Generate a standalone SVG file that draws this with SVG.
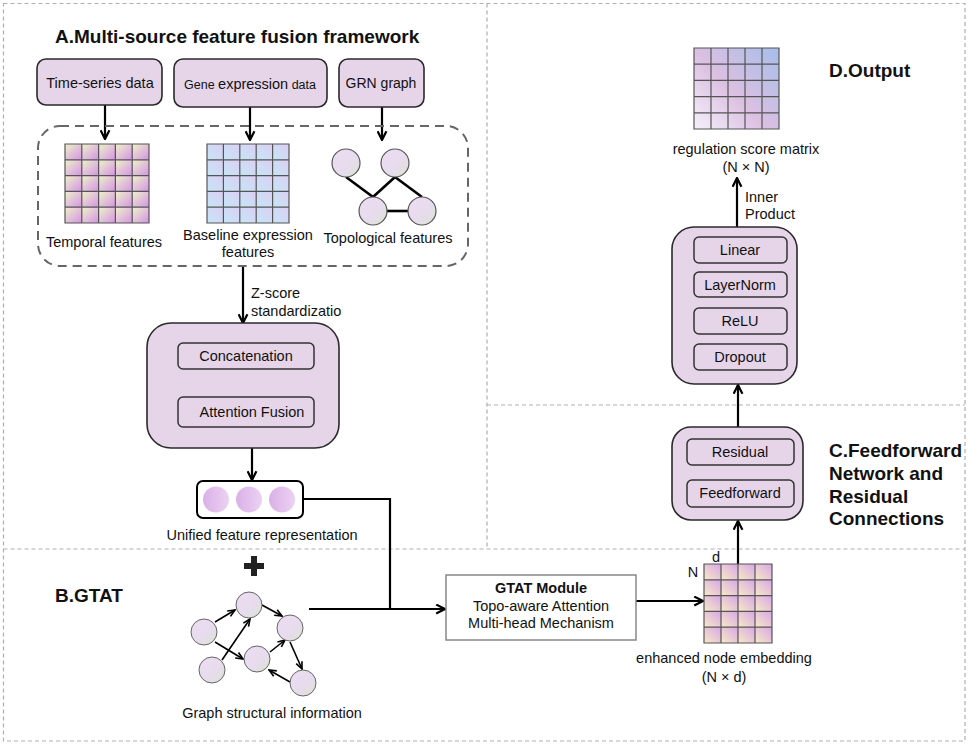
<svg xmlns="http://www.w3.org/2000/svg" width="969" height="746" viewBox="0 0 969 746">
<defs>
<style>
text{font-family:"Liberation Sans",Arial,sans-serif;fill:#111;}
.h{font-size:19px;font-weight:bold;}
.t{font-size:14.5px;}
.m{text-anchor:middle;}
.panel{fill:none;stroke:#b0b0b0;stroke-width:1.2;stroke-dasharray:4 3;}
.box{fill:#e6d5e9;stroke:#2a2a2a;stroke-width:1.6;}
.inbox{fill:#e6d5e9;stroke:#333;stroke-width:1.5;}
.grid{fill:none;stroke:#555;stroke-width:1.2;}
.conn{fill:none;stroke:#000;stroke-width:2.2;}
.gconn{fill:none;stroke:#000;stroke-width:1.6;}
.edge{stroke:#000;stroke-width:2.6;}
</style>
<marker id="ah" viewBox="0 0 10 10" refX="9" refY="5" markerWidth="11" markerHeight="11" markerUnits="userSpaceOnUse" orient="auto"><path d="M1,1 L9,5 L1,9" fill="none" stroke="#000" stroke-width="2"/></marker>
<marker id="sa" viewBox="0 0 10 10" refX="9" refY="5" markerWidth="9" markerHeight="9" markerUnits="userSpaceOnUse" orient="auto"><path d="M1,1.5 L9,5 L1,8.5" fill="none" stroke="#000" stroke-width="1.8"/></marker>
<linearGradient id="gT" x1="0" y1="0" x2="1" y2="1"><stop offset="0" stop-color="#eef3c8"/><stop offset="1" stop-color="#d592e6"/></linearGradient>
<linearGradient id="gB" x1="0" y1="1" x2="1" y2="0"><stop offset="0" stop-color="#c4e6f7"/><stop offset="1" stop-color="#dccff2"/></linearGradient>
<linearGradient id="gN" x1="0" y1="1" x2="1" y2="0"><stop offset="0" stop-color="#f8eac4"/><stop offset="1" stop-color="#d8a6e8"/></linearGradient>
<linearGradient id="gO" gradientUnits="userSpaceOnUse" x1="694" y1="129" x2="779" y2="48"><stop offset="0" stop-color="#f5f0fa"/><stop offset="0.45" stop-color="#dcc0e2"/><stop offset="1" stop-color="#a6bee9"/></linearGradient>
<linearGradient id="gC" x1="0" y1="0" x2="1" y2="1"><stop offset="0" stop-color="#efdcf4"/><stop offset="0.6" stop-color="#e6dcec"/><stop offset="1" stop-color="#dde4cc"/></linearGradient>
<linearGradient id="gU" x1="0" y1="0" x2="1" y2="0"><stop offset="0" stop-color="#dab0e6"/><stop offset="1" stop-color="#ecd2f4"/></linearGradient>
<pattern id="pT" patternUnits="userSpaceOnUse" x="65" y="144" width="16.8" height="15.8"><rect width="16.8" height="15.8" fill="url(#gT)"/></pattern>
<pattern id="pB" patternUnits="userSpaceOnUse" x="207" y="144" width="16.4" height="15.8"><rect width="16.4" height="15.8" fill="url(#gB)"/></pattern>
<pattern id="pN" patternUnits="userSpaceOnUse" x="704" y="564" width="17" height="15.8"><rect width="17" height="15.8" fill="url(#gN)"/></pattern>
</defs>

<g id="panels">
<rect class="panel" x="3.5" y="3.5" width="961.5" height="737.5"/>
<line class="panel" x1="487" y1="3.5" x2="487" y2="549"/>
<line class="panel" x1="3.5" y1="549" x2="965" y2="549"/>
<line class="panel" x1="487" y1="405" x2="965" y2="405"/>
</g>

<g id="titles">
<text class="h" x="55" y="43">A.Multi-source feature fusion framework</text>
<text class="h" x="55" y="602">B.GTAT</text>
<text class="h" x="829" y="457">C.Feedforward</text>
<text class="h" x="829" y="480">Network and</text>
<text class="h" x="829" y="503">Residual</text>
<text class="h" x="829" y="525">Connections</text>
<text class="h" x="829" y="77">D.Output</text>
</g>

<g id="connectors">
<line class="conn" x1="105" y1="105" x2="105" y2="139" marker-end="url(#ah)"/>
<line class="conn" x1="250" y1="107" x2="250" y2="140" marker-end="url(#ah)"/>
<line class="conn" x1="382" y1="107" x2="382" y2="140" marker-end="url(#ah)"/>
<line class="conn" x1="243" y1="266" x2="243" y2="323" marker-end="url(#ah)"/>
<line class="conn" x1="252" y1="448" x2="252" y2="480" marker-end="url(#ah)"/>
<polyline class="conn" points="303,499 390,499 390,609"/>
<line class="conn" x1="309" y1="609" x2="445" y2="609" marker-end="url(#ah)"/>
<line class="conn" x1="636" y1="601" x2="703" y2="601" marker-end="url(#ah)"/>
<line class="conn" x1="738" y1="564" x2="738" y2="521" marker-end="url(#ah)"/>
<line class="conn" x1="738" y1="427" x2="738" y2="385" marker-end="url(#ah)"/>
<line class="conn" x1="737" y1="227" x2="737" y2="178" marker-end="url(#ah)"/>
</g>

<g id="time-series">
<rect class="box" x="37" y="59" width="125" height="46" rx="9"/>
<text class="t m" x="100" y="88">Time-series data</text>
</g>
<g id="gene-expression">
<rect class="box" x="174" y="59" width="153" height="48" rx="9"/>
<text class="m" x="250" y="89"><tspan style="font-size:12.5px">Gene </tspan><tspan style="font-size:14.5px">expression</tspan><tspan style="font-size:12.5px"> data</tspan></text>
</g>
<g id="grn-graph">
<rect class="box" x="339" y="59" width="85" height="48" rx="9"/>
<text class="m" x="381" y="88" style="font-size:14px">GRN graph</text>
</g>

<g id="feature-group">
<rect x="38" y="126" width="430" height="140" rx="22" fill="none" stroke="#666" stroke-width="2" stroke-dasharray="9 6"/>
</g>

<g id="temporal-features">
<rect x="65" y="144" width="84" height="79" fill="url(#pT)"/>
<path class="grid" d="M65,144h84v79h-84zM81.8,144v79M98.6,144v79M115.4,144v79M132.2,144v79M65,159.8h84M65,175.6h84M65,191.4h84M65,207.2h84"/>
<text class="t m" x="104" y="247">Temporal features</text>
</g>

<g id="baseline-features">
<rect x="207" y="144" width="82" height="79" fill="url(#pB)"/>
<path class="grid" d="M207,144h82v79h-82zM223.4,144v79M239.8,144v79M256.2,144v79M272.6,144v79M207,159.8h82M207,175.6h82M207,191.4h82M207,207.2h82"/>
<text class="t m" x="248" y="240">Baseline expression</text>
<text class="t m" x="248" y="257">features</text>
</g>

<g id="topological-features">
<line class="edge" x1="346" y1="177" x2="373" y2="197"/>
<line class="edge" x1="373" y1="197" x2="395" y2="177"/>
<line class="edge" x1="395" y1="177" x2="422" y2="197"/>
<line class="edge" x1="386" y1="211" x2="409" y2="211"/>
<circle cx="346" cy="163" r="14" fill="url(#gC)" stroke="#555" stroke-width="1.2"/>
<circle cx="395" cy="163" r="14" fill="url(#gC)" stroke="#555" stroke-width="1.2"/>
<circle cx="373" cy="211" r="14" fill="url(#gC)" stroke="#555" stroke-width="1.2"/>
<circle cx="422" cy="211" r="14" fill="url(#gC)" stroke="#555" stroke-width="1.2"/>
<text class="t m" x="388" y="243">Topological features</text>
</g>

<g id="zscore-label">
<text class="t" x="251" y="298">Z-score</text>
<text class="t" x="251" y="316">standardizatio</text>
</g>

<g id="fusion">
<rect class="box" x="147" y="323" width="192" height="125" rx="24"/>
<rect class="inbox" x="178" y="343" width="136" height="26" rx="5"/>
<text class="t m" x="246" y="361">Concatenation</text>
<rect class="inbox" x="178" y="397" width="136" height="30" rx="5"/>
<text class="t m" x="252" y="417">Attention Fusion</text>
</g>

<g id="unified">
<rect x="197" y="481" width="106" height="37" rx="6" fill="#fff" stroke="#000" stroke-width="2"/>
<circle cx="216" cy="499.5" r="13" fill="url(#gU)"/>
<circle cx="249" cy="499.5" r="13" fill="url(#gU)"/>
<circle cx="282" cy="499.5" r="13" fill="url(#gU)"/>
<text class="t m" x="262" y="540">Unified feature representation</text>
</g>

<g id="plus">
<path d="M251,556h6v7h7v6h-7v7h-6v-7h-7v-6h7z" fill="#222"/>
</g>

<g id="graph-structure">
<g class="gconn">
<line x1="215" y1="622" x2="235" y2="610" marker-end="url(#sa)"/>
<line x1="222" y1="660" x2="250" y2="619" marker-end="url(#sa)"/>
<line x1="215" y1="642" x2="243" y2="659" marker-end="url(#sa)"/>
<line x1="262" y1="605" x2="282" y2="616" marker-end="url(#sa)"/>
<line x1="270" y1="652" x2="285" y2="640" marker-end="url(#sa)"/>
<line x1="290" y1="642" x2="302" y2="669" marker-end="url(#sa)"/>
<line x1="290" y1="682" x2="269" y2="670" marker-end="url(#sa)"/>
</g>
<circle cx="204" cy="632" r="13" fill="url(#gC)" stroke="#666" stroke-width="1"/>
<circle cx="249" cy="605" r="13" fill="url(#gC)" stroke="#666" stroke-width="1"/>
<circle cx="290" cy="628" r="13" fill="url(#gC)" stroke="#666" stroke-width="1"/>
<circle cx="212" cy="670" r="13" fill="url(#gC)" stroke="#666" stroke-width="1"/>
<circle cx="257" cy="659" r="13" fill="url(#gC)" stroke="#666" stroke-width="1"/>
<circle cx="303" cy="683" r="13" fill="url(#gC)" stroke="#666" stroke-width="1"/>
<text class="t m" x="272" y="718">Graph structural information</text>
</g>

<g id="gtat-module">
<rect x="446" y="575" width="190" height="65" fill="#fff" stroke="#888" stroke-width="1.5"/>
<text class="t m" x="541" y="593" style="font-weight:bold">GTAT Module</text>
<text class="t m" x="541" y="611">Topo-aware Attention</text>
<text class="t m" x="541" y="628">Multi-head Mechanism</text>
</g>

<g id="node-embedding">
<rect x="704" y="564" width="68" height="79" fill="url(#pN)"/>
<path class="grid" d="M704,564h68v79h-68zM721,564v79M738,564v79M755,564v79M704,579.8h68M704,595.6h68M704,611.4h68M704,627.2h68"/>
<text class="t m" x="716" y="562">d</text>
<text class="t m" x="693" y="577">N</text>
<text class="t m" x="724" y="663">enhanced node embedding</text>
<text class="t m" x="724" y="682">(N × d)</text>
</g>

<g id="ffn-residual">
<rect class="box" x="672" y="427" width="131" height="93" rx="19"/>
<rect class="inbox" x="687" y="439" width="107" height="26" rx="5"/>
<text class="t m" x="740" y="457">Residual</text>
<rect class="inbox" x="687" y="480" width="107" height="27" rx="5"/>
<text class="t m" x="740" y="498">Feedforward</text>
</g>

<g id="output-head">
<rect class="box" x="672" y="227" width="125" height="157" rx="22"/>
<rect class="inbox" x="694" y="237" width="93" height="26" rx="5"/>
<text class="t m" x="740" y="255">Linear</text>
<rect class="inbox" x="694" y="272" width="93" height="25" rx="5"/>
<text class="t m" x="740" y="290">LayerNorm</text>
<rect class="inbox" x="694" y="308" width="93" height="26" rx="5"/>
<text class="t m" x="740" y="326">ReLU</text>
<rect class="inbox" x="694" y="344" width="93" height="26" rx="5"/>
<text class="t m" x="740" y="362">Dropout</text>
</g>

<g id="inner-product-label">
<text class="t" x="745" y="202">Inner</text>
<text class="t" x="745" y="219">Product</text>
</g>

<g id="score-matrix">
<rect x="694" y="48" width="85" height="81" fill="url(#gO)"/>
<path class="grid" d="M694,48h85v81h-85zM711,48v81M728,48v81M745,48v81M762,48v81M694,64.2h85M694,80.4h85M694,96.6h85M694,112.8h85"/>
<text class="t m" x="746" y="154">regulation score matrix</text>
<text class="t m" x="746" y="172">(N × N)</text>
</g>
</svg>
